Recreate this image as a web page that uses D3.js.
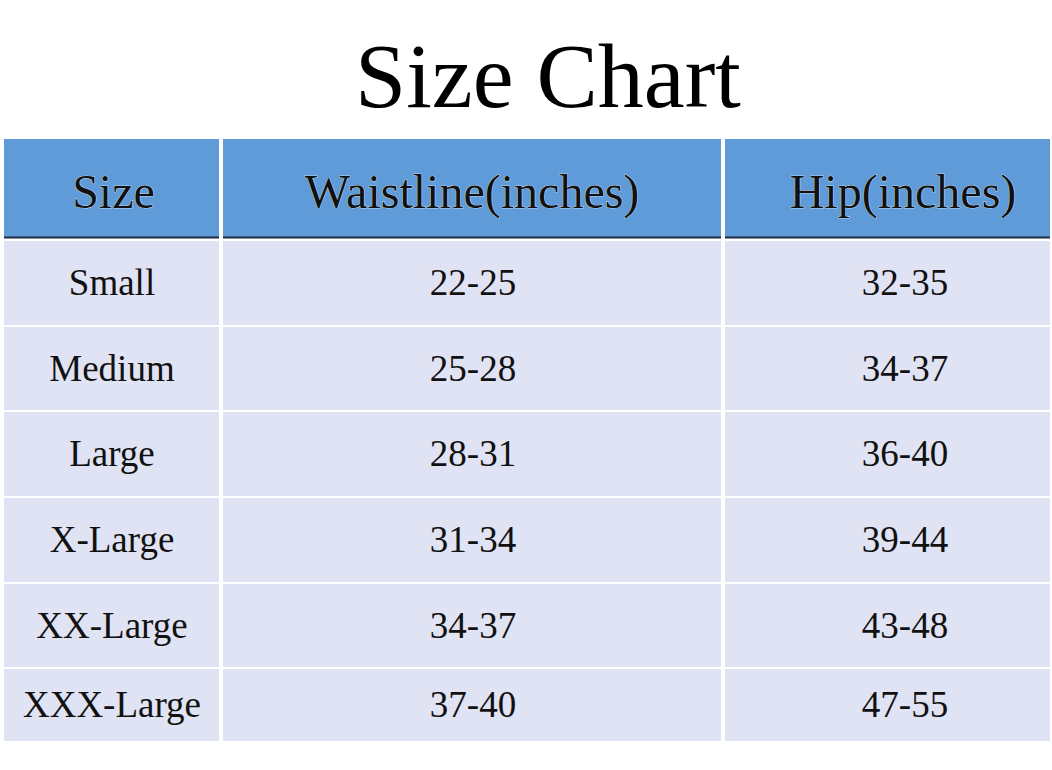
<!DOCTYPE html>
<html><head><meta charset="utf-8">
<script src="https://cdn.jsdelivr.net/npm/d3@7"></script>
<style>body{margin:0;background:#fff}</style>
</head><body>
<svg id="chart" width="1052" height="770"></svg>
<script>
const title = "Size Chart"
const headers = ["Size", "Waistline(inches)", "Hip(inches)"]
const sizes = ["Small", "Medium", "Large", "X-Large", "XX-Large", "XXX-Large"]
const waist = ["22-25", "25-28", "28-31", "31-34", "34-37", "37-40"]
const hip = ["32-35", "34-37", "36-40", "39-44", "43-48", "47-55"]

const svg = d3.select("#chart")
const font = "'Liberation Serif', 'DejaVu Serif', serif"

// column edges
const colEdges = [0, 221, 723, 1052]
const rowTops = [241, 327, 412, 498, 584, 669]
const rowH = [84, 83, 84, 84, 83, 72]

svg.append("text")
    .attr("x", 548).attr("y", 107)
    .attr("text-anchor", "middle")
    .style("font-family", font).style("font-size", "92px")
    .text(title)

// header
for (let c = 0; c < 3; c++) {
    const x0 = colEdges[c] + (c ? 2 : 4), x1 = colEdges[c + 1] - 2
    svg.append("rect").attr("x", x0).attr("y", 139).attr("width", x1 - x0).attr("height", 99)
        .attr("fill", "#5e9bd8")
    svg.append("line").attr("x1", x0).attr("x2", x1).attr("y1", 237.5).attr("y2", 237.5)
        .attr("stroke", "#1c2a44").attr("stroke-width", 2)
    svg.append("text")
        .attr("x", c == 2 ? 903 : (x0 + x1) / 2 + (c == 0 ? 2 : 0)).attr("y", 208)
        .attr("text-anchor", "middle")
        .style("font-family", font).style("font-size", "48px").attr("fill", "#111")
        .attr("stroke", "#fff").attr("stroke-width", 0.6).attr("paint-order", "stroke")
        .text(headers[c])
}

const cols = [sizes, waist, hip]
const centers = [112, 473, 905]
for (let r = 0; r < sizes.length; r++) {
    for (let c = 0; c < 3; c++) {
        const x0 = colEdges[c] + (c ? 2 : 4), x1 = colEdges[c + 1] - 2
        svg.append("rect").attr("x", x0).attr("y", rowTops[r]).attr("width", x1 - x0).attr("height", rowH[r])
            .attr("fill", "#e0e3f3")
        svg.append("text")
            .attr("x", centers[c]).attr("y", rowTops[r] + rowH[r] / 2 + 12)
            .attr("text-anchor", "middle")
            .style("font-family", font).style("font-size", "37px").attr("fill", "#111")
            .text(cols[c][r])
    }
}
</script>
</body></html>
